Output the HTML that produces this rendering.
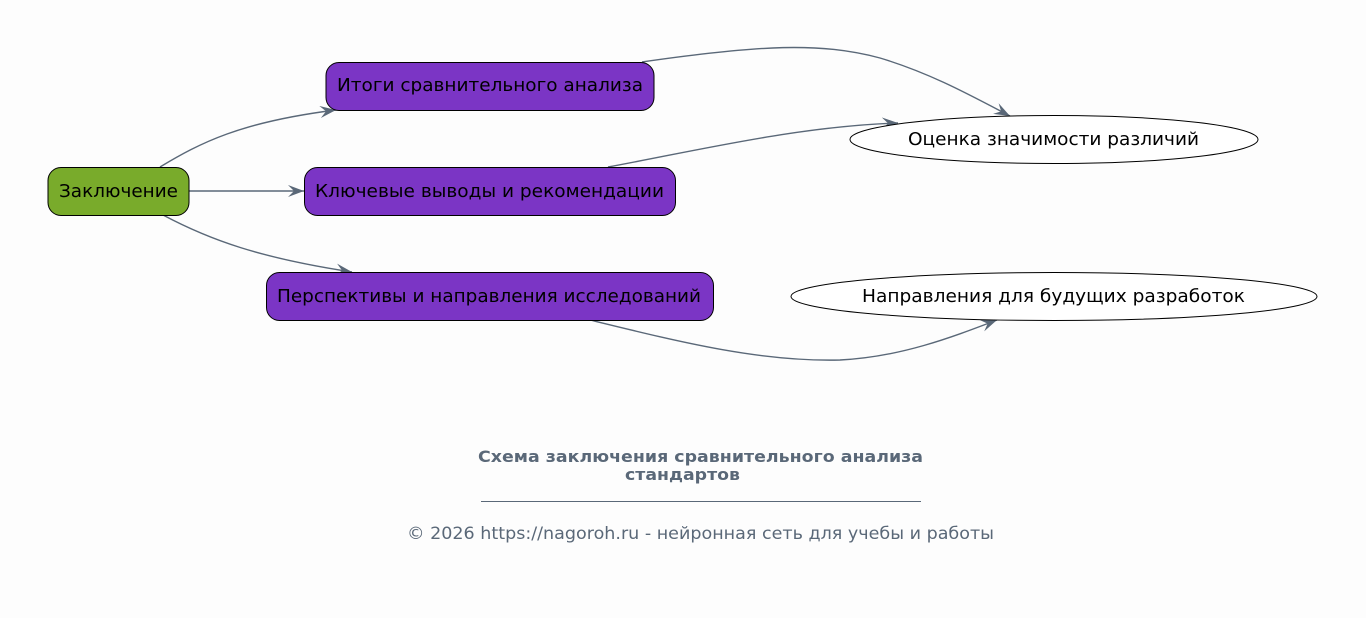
<!DOCTYPE html>
<html><head><meta charset="utf-8"><style>
html,body{margin:0;padding:0;background:#fdfdfd;}
svg{display:block;font-family:"DejaVu Sans","Liberation Sans",sans-serif;}
</style></head><body>
<svg width="1366" height="618" viewBox="0 0 1366 618" xmlns="http://www.w3.org/2000/svg">
<defs>
<marker id="a" markerWidth="18" markerHeight="14" refX="16" refY="7" orient="auto" markerUnits="userSpaceOnUse">
<path d="M0,1 L16,7 L0,13 L6,7 Z" fill="#5a6878"/>
</marker>
</defs>
<rect width="1366" height="618" fill="#fdfdfd"/>
<g fill="none" stroke="#5a6878" stroke-width="1.4" marker-end="url(#a)">
<path d="M160,167 C200,143 240,122 336,110"/>
<path d="M189,191 L304,191"/>
<path d="M163,215 C210,240 260,258 352,272"/>
<path d="M642,62 C760,45 820,42 880,58 C930,73 970,95 1010,116"/>
<path d="M608,167 C700,150 800,126 898,123"/>
<path d="M590,320 C680,342 760,362 840,360 C900,357 950,338 997,320"/>
</g>
<g stroke="#000" stroke-width="1">
<rect x="48" y="167.5" width="141" height="48" rx="13" fill="#79ab2b"/>
<rect x="326" y="62.5" width="328" height="48" rx="13" fill="#7b35c5"/>
<rect x="304.5" y="167.5" width="371" height="48" rx="13" fill="#7b35c5"/>
<rect x="266.5" y="272.5" width="447" height="48" rx="13" fill="#7b35c5"/>
<ellipse cx="1054" cy="139.5" rx="204" ry="24" fill="#fff"/>
<ellipse cx="1054" cy="296.5" rx="263" ry="24" fill="#fff"/>
</g>
<g font-size="18" fill="#000" lengthAdjust="spacingAndGlyphs">
<text x="59" y="197" textLength="119" lengthAdjust="spacingAndGlyphs">Заключение</text>
<text x="337" y="91" textLength="306" lengthAdjust="spacingAndGlyphs">Итоги сравнительного анализа</text>
<text x="315" y="197" textLength="349" lengthAdjust="spacingAndGlyphs">Ключевые выводы и рекомендации</text>
<text x="277" y="302" textLength="424" lengthAdjust="spacingAndGlyphs">Перспективы и направления исследований</text>
<text x="908" y="145" textLength="291" lengthAdjust="spacingAndGlyphs">Оценка значимости различий</text>
<text x="862" y="302" textLength="383" lengthAdjust="spacingAndGlyphs">Направления для будущих разработок</text>
</g>
<g fill="#5a6878">
<text x="478" y="462" font-size="16" font-weight="bold" textLength="445" lengthAdjust="spacingAndGlyphs">Схема заключения сравнительного анализа</text>
<text x="625" y="480" font-size="16" font-weight="bold" textLength="115" lengthAdjust="spacingAndGlyphs">стандартов</text>
<line x1="481" y1="501.5" x2="921" y2="501.5" stroke="#5a6878" stroke-width="1"/>
<text x="407" y="539" font-size="16.5" textLength="587" lengthAdjust="spacingAndGlyphs">© 2026 https://nagoroh.ru - нейронная сеть для учебы и работы</text>
</g>
</svg>
</body></html>
